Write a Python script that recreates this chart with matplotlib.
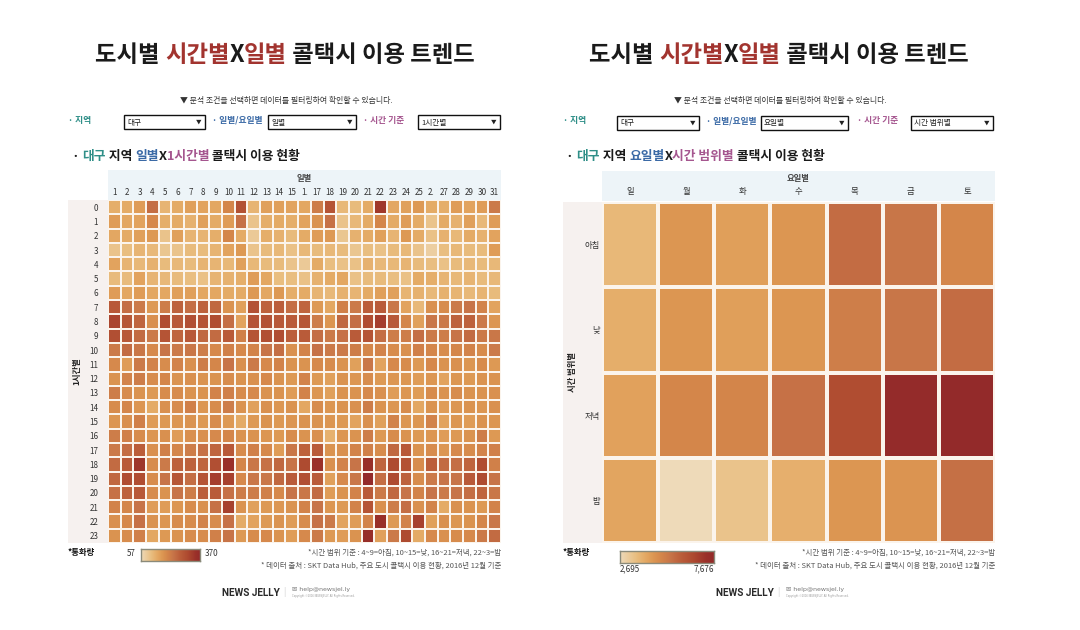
import numpy as np
import matplotlib.pyplot as plt
from matplotlib.colors import LinearSegmentedColormap
from matplotlib.patches import Rectangle

plt.rcParams['font.family'] = ['Noto Sans CJK KR', 'DejaVu Sans']

# ---- data ----
hours = [str(h) for h in range(24)]
day_labels = ['1', '2', '3', '4', '5', '6', '7', '8', '9', '10', '11', '12', '13', '14', '15', '1.',
              '17', '18', '19', '20', '21', '22', '23', '24', '25', '2.', '27', '28', '29', '30', '31']

# calls per hour (rows 0..23) x day of month (cols 1..31), Daegu
calls_hour_day = [
    [135, 140, 160, 235, 125, 140, 155, 150, 145, 195, 285, 125, 155, 155, 150, 145, 210, 280, 120, 115, 140, 330, 145, 155, 165, 140, 135, 160, 150, 160, 215],
    [160, 145, 150, 190, 135, 140, 130, 155, 140, 160, 230, 100, 135, 140, 135, 150, 175, 230, 100, 120, 140, 195, 140, 160, 140, 100, 140, 130, 155, 120, 160],
    [145, 140, 155, 165, 100, 155, 125, 125, 135, 195, 140, 90, 135, 130, 115, 140, 160, 165, 95, 130, 140, 155, 125, 165, 140, 105, 130, 120, 140, 130, 150],
    [100, 110, 125, 120, 95, 100, 115, 115, 125, 150, 165, 100, 115, 120, 105, 120, 115, 120, 115, 95, 110, 105, 115, 120, 100, 80, 110, 120, 115, 115, 160],
    [150, 125, 120, 130, 115, 120, 115, 125, 125, 120, 155, 120, 115, 115, 100, 90, 140, 110, 105, 105, 130, 120, 120, 125, 115, 110, 105, 115, 120, 115, 120],
    [115, 115, 150, 125, 120, 115, 110, 105, 125, 130, 135, 160, 145, 110, 110, 105, 130, 140, 145, 105, 115, 115, 110, 105, 140, 135, 125, 120, 125, 115, 120],
    [160, 145, 160, 145, 145, 155, 155, 145, 145, 140, 140, 165, 145, 165, 135, 140, 125, 120, 130, 125, 140, 155, 155, 125, 130, 120, 130, 125, 120, 125, 115],
    [270, 235, 215, 165, 210, 255, 235, 255, 245, 175, 155, 285, 255, 260, 235, 250, 165, 145, 205, 215, 260, 265, 220, 150, 120, 180, 185, 215, 225, 200, 150],
    [310, 275, 250, 180, 295, 270, 290, 280, 295, 235, 150, 280, 285, 270, 265, 275, 210, 170, 245, 235, 295, 320, 270, 195, 155, 220, 215, 255, 255, 215, 170],
    [290, 270, 240, 215, 280, 250, 270, 245, 240, 265, 205, 280, 290, 295, 260, 265, 235, 215, 230, 265, 280, 235, 210, 210, 235, 215, 210, 225, 240, 215, 220],
    [215, 240, 220, 190, 225, 215, 220, 210, 190, 205, 190, 200, 225, 235, 180, 200, 230, 215, 215, 210, 195, 200, 185, 180, 205, 195, 185, 195, 200, 185, 215],
    [190, 160, 215, 200, 185, 200, 180, 210, 195, 225, 180, 215, 190, 200, 175, 175, 190, 185, 175, 155, 220, 150, 190, 185, 165, 190, 175, 180, 170, 185, 165],
    [175, 200, 210, 185, 195, 175, 180, 175, 175, 185, 175, 180, 190, 175, 165, 200, 165, 155, 175, 170, 185, 165, 170, 170, 160, 170, 150, 170, 165, 175, 175],
    [210, 185, 175, 165, 185, 185, 175, 175, 200, 205, 185, 190, 175, 175, 160, 200, 170, 155, 175, 175, 190, 180, 160, 170, 160, 185, 175, 185, 175, 175, 180],
    [185, 195, 170, 140, 180, 185, 205, 170, 185, 210, 175, 155, 180, 170, 175, 145, 185, 170, 175, 180, 210, 175, 170, 185, 145, 175, 160, 170, 175, 170, 180],
    [170, 180, 205, 160, 165, 170, 175, 165, 185, 165, 140, 165, 175, 165, 170, 175, 175, 170, 165, 150, 180, 155, 200, 170, 170, 200, 150, 170, 160, 175, 170],
    [210, 205, 185, 170, 180, 160, 180, 180, 190, 195, 175, 175, 170, 165, 185, 175, 180, 130, 170, 175, 210, 165, 185, 175, 165, 170, 160, 165, 175, 210, 165],
    [215, 235, 260, 180, 205, 195, 210, 230, 250, 270, 185, 205, 190, 160, 220, 255, 265, 175, 180, 200, 205, 185, 245, 270, 175, 185, 170, 190, 185, 200, 205],
    [240, 265, 335, 185, 215, 255, 255, 250, 290, 345, 195, 220, 230, 245, 225, 300, 345, 180, 200, 225, 350, 250, 300, 285, 185, 260, 240, 235, 250, 295, 205],
    [245, 295, 295, 185, 225, 275, 235, 280, 320, 315, 190, 220, 220, 245, 265, 290, 265, 155, 190, 220, 370, 235, 300, 255, 185, 215, 225, 225, 270, 300, 225],
    [230, 255, 270, 185, 175, 225, 210, 260, 265, 230, 210, 210, 205, 190, 225, 220, 240, 160, 175, 200, 265, 215, 245, 225, 200, 225, 215, 225, 235, 250, 220],
    [200, 195, 225, 160, 160, 170, 185, 180, 230, 315, 175, 155, 165, 170, 175, 200, 225, 170, 165, 200, 280, 180, 210, 235, 180, 200, 140, 180, 175, 165, 200],
    [180, 190, 230, 175, 170, 185, 185, 200, 185, 230, 140, 150, 165, 175, 160, 185, 230, 215, 150, 160, 200, 350, 165, 200, 315, 155, 180, 170, 175, 195, 220],
    [175, 185, 205, 145, 165, 175, 185, 185, 205, 225, 165, 185, 190, 175, 160, 190, 215, 165, 160, 175, 355, 155, 215, 300, 140, 190, 180, 185, 190, 215, 240],
]

weekdays = ['일', '월', '화', '수', '목', '금', '토']
periods = ['아침', '낮', '저녁', '밤']
calls_period_weekday = [
    [3690, 4490, 4290, 4490, 5580, 5340, 4890],
    [3940, 4490, 4290, 4490, 5090, 5340, 5580],
    [4240, 4890, 4920, 5450, 6480, 7590, 7676],
    [4140, 2695, 3390, 3890, 4490, 4540, 5480],
]

cmap = LinearSegmentedColormap.from_list('callz', [
    (0.0, '#eedab9'), (0.17, '#e9be80'), (0.27, '#e4a964'), (0.35, '#dd9853'),
    (0.44, '#d4864a'), (0.54, '#c77448'), (0.65, '#bb5e3a'), (0.78, '#ae4a30'),
    (0.92, '#9a3029'), (1.0, '#932a2a')])

TEAL = '#2f8f88'
BLUE = '#3b6aa6'
PURPLE = '#a5568f'
RED = '#a2342f'
DARK = '#1a1a1a'

fig = plt.figure(figsize=(10.8, 6.3), dpi=100)
bg = fig.add_axes([0, 0, 1, 1])
bg.set_xlim(0, 1080)
bg.set_ylim(630, 0)
bg.axis('off')
renderer = fig.canvas.get_renderer()


def rich(x, y, parts, size, weight='bold', ha='left'):
    # multi coloured text on one line
    widths = []
    for s, c in parts:
        t = bg.text(0, 0, s + '|', fontsize=size, weight=weight)
        w1 = t.get_window_extent(renderer).width
        t.set_text('|')
        w2 = t.get_window_extent(renderer).width
        t.remove()
        widths.append(w1 - w2)
    if ha == 'center':
        x -= sum(widths) / 2
    for (s, c), w in zip(parts, widths):
        bg.text(x, y, s, color=c, fontsize=size, weight=weight, va='center_baseline', ha='left')
        x += w


def rect(x0, y0, x1, y1, fc, ec='none', lw=0):
    bg.add_patch(Rectangle((x0, y0), x1 - x0, y1 - y0, facecolor=fc, edgecolor=ec, linewidth=lw))


def dropdown(x0, x1, y0, label):
    rect(x0, y0, x1, y0 + 14, 'white', '#111111', 1)
    bg.text(x0 + 3, y0 + 7.5, label, fontsize=5.5, va='center', ha='left', color='#222222')
    bg.text(x1 - 6, y0 + 7.5, '▼', fontsize=4, va='center', ha='center', color='#222222')


def panel(dx, boxes, heading, header, rowtitle, row_band, hm_box):
    rich(285 + dx, 53, [('도시별 ', DARK), ('시간별', RED), ('X', DARK), ('일별', RED),
                        (' 콜택시 이용 트렌드', DARK)], 16.8, weight='black', ha='center')
    bg.text(286 + dx, 100, '▼ 분석 조건을 선택하면 데이터를 필터링하여 확인할 수 있습니다.',
            fontsize=5.7, ha='center', va='center', color='#333333')
    fy = boxes[0]
    bg.text(boxes[1], fy + 5, '· 지역', fontsize=6.3, weight='bold', color=TEAL, va='center')
    dropdown(boxes[2], boxes[3], fy, boxes[4])
    bg.text(boxes[5], fy + 5, '· 일별/요일별', fontsize=6.3, weight='bold', color=BLUE, va='center')
    dropdown(boxes[6], boxes[7], fy, boxes[8])
    bg.text(boxes[9], fy + 5, '· 시간 기준', fontsize=6.3, weight='bold', color=PURPLE, va='center')
    dropdown(boxes[10], boxes[11], fy, boxes[12])
    rich(heading[0], 155, heading[1], 9.2)
    # header band + row band
    rect(header[0], header[1], header[2], header[3], '#edf4f8')
    bg.text((header[0] + header[2]) / 2, header[1] + 8, header[4], fontsize=6, weight='bold',
            ha='center', va='center', color='#444444')
    rect(row_band[0], row_band[1], row_band[2], row_band[3], '#f6f1ef')
    bg.text(row_band[4], (row_band[1] + row_band[3]) / 2, rowtitle, fontsize=6, weight='bold',
            rotation=90, ha='center', va='center', color='#222222')
    # footer notes
    bg.text(hm_box[1], 553, '*시간 범위 기준 : 4~9=아침, 10~15=낮, 16~21=저녁, 22~3=밤',
            fontsize=5.4, style='italic', ha='right', va='center', color='#555555')
    bg.text(hm_box[1], 566, '* 데이터 출처 : SKT Data Hub, 주요 도시 콜택시 이용 현황, 2016년 12월 기준',
            fontsize=5.4, style='italic', ha='right', va='center', color='#555555')
    bg.text(row_band[0], 552, '*통화량', fontsize=6, weight='bold', ha='left', va='center', color='#111111')
    fx = 222 + dx
    bg.text(fx, 593, 'NEWS JELLY', fontsize=7.2, weight='bold', family=['Roboto', 'DejaVu Sans'],
            ha='left', va='center', color='#2a2a2a')
    bg.text(fx + 62, 592, '|', fontsize=6, ha='center', va='center', color='#cccccc')
    bg.text(fx + 70, 590, '✉ help@newsjel.ly', fontsize=4.5, ha='left', va='center', color='#777777',
            family=['DejaVu Sans'])
    bg.text(fx + 70, 596.5, 'Copyright ©2016 NEWSJELLY. All Rights Reserved.', fontsize=1.8,
            ha='left', va='center', color='#999999', family=['DejaVu Sans'])


def heat_axes(x0, y0, x1, y1):
    return fig.add_axes([x0 / 1080, 1 - y1 / 630, (x1 - x0) / 1080, (y1 - y0) / 630])


# ---- left panel ----
panel(0, [115, 68, 124, 205, '대구', 212, 268, 356, '일별', 363, 418, 500, '1시간별'],
      (72, [('· ', DARK), ('대구', TEAL), (' 지역 ', DARK), ('일별', BLUE), ('X', DARK),
            ('1시간별', PURPLE), (' 콜택시 이용 현황', DARK)]),
      (108, 170, 501, 200, '일별'), '1시간별', (68, 200, 108, 543, 77), (108, 501))

ax1 = heat_axes(108, 200, 501, 543)
data1 = np.array(calls_hour_day)
ax1.pcolormesh(data1, cmap=cmap, vmin=57, vmax=370, edgecolors='#fbf4ec', linewidth=1.1)
ax1.set_xlim(0, 31)
ax1.set_ylim(24, 0)
ax1.set_xticks(np.arange(31) + 0.5, day_labels)
ax1.set_yticks(np.arange(24) + 0.5, hours)
ax1.xaxis.set_ticks_position('top')
ax1.tick_params(length=0, labelsize=5.8, labelcolor='#333333')
ax1.tick_params(axis='x', pad=2.5)
ax1.tick_params(axis='y', pad=7)
for s in ax1.spines.values():
    s.set_visible(False)

cb1 = heat_axes(141, 549, 200, 561)
cb1.imshow(np.linspace(0, 1, 256)[None, :], cmap=cmap, aspect='auto')
cb1.set_xticks([])
cb1.set_yticks([])
for s in cb1.spines.values():
    s.set_color('#8a8a7a')
    s.set_linewidth(1)
bg.text(127, 554, '57', fontsize=5.8, ha='left', va='center', color='#333333')
bg.text(205, 554, '370', fontsize=5.8, ha='left', va='center', color='#333333')

# ---- right panel ----
panel(494, [116, 563, 617, 699, '대구', 706, 761, 848, '요일별', 857, 911, 993, '시간 범위별'],
      (566, [('· ', DARK), ('대구', TEAL), (' 지역 ', DARK), ('요일별', BLUE), ('X', DARK),
             ('시간 범위별', PURPLE), (' 콜택시 이용 현황', DARK)]),
      (602, 171, 995, 201, '요일별'), '시간 범위별', (563, 202, 602, 543, 572), (602, 995))

ax2 = heat_axes(602, 202, 995, 543)
data2 = np.array(calls_period_weekday)
ax2.pcolormesh(data2, cmap=cmap, vmin=2695, vmax=7676, edgecolors='#fbf4ec', linewidth=1.6)
ax2.set_xlim(0, 7)
ax2.set_ylim(4, 0)
ax2.set_xticks(np.arange(7) + 0.5, weekdays)
ax2.set_yticks(np.arange(4) + 0.5, periods)
ax2.xaxis.set_ticks_position('top')
ax2.tick_params(length=0, labelsize=6, labelcolor='#333333')
ax2.tick_params(axis='x', pad=4)
ax2.tick_params(axis='y', pad=1.5)
for s in ax2.spines.values():
    s.set_visible(False)

cb2 = heat_axes(620, 551, 714, 563)
cb2.imshow(np.linspace(0, 1, 256)[None, :], cmap=cmap, aspect='auto')
cb2.set_xticks([])
cb2.set_yticks([])
for s in cb2.spines.values():
    s.set_color('#8a8a7a')
    s.set_linewidth(1)
bg.text(620, 569, '2,695', fontsize=5.8, ha='left', va='center', color='#333333')
bg.text(714, 569, '7,676', fontsize=5.8, ha='right', va='center', color='#333333')

fig.savefig('out.png', dpi=100, facecolor='white')
